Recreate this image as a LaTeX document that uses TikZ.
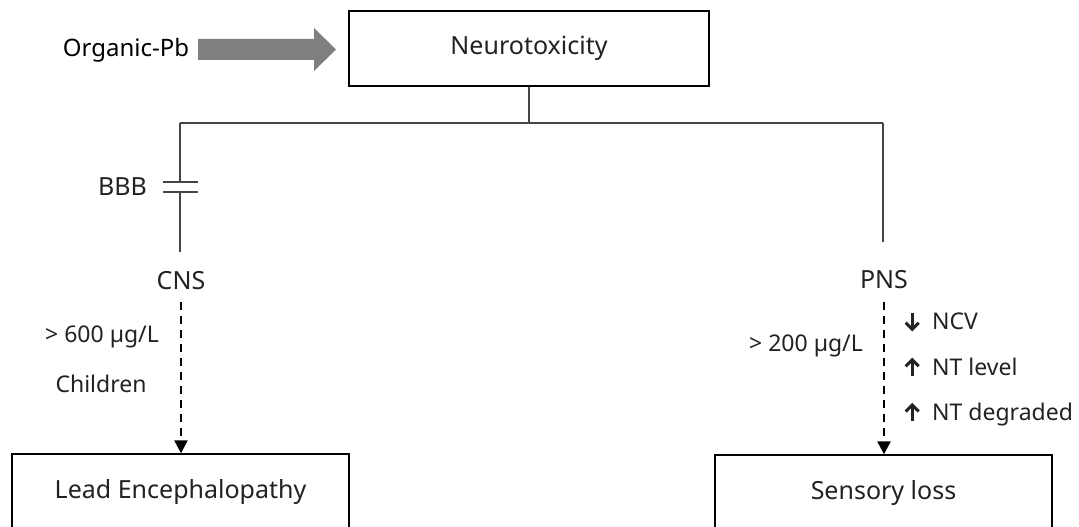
\documentclass[tikz,border=0pt]{standalone}
\usepackage{fontspec}
\setmainfont{Noto Sans}
\usetikzlibrary{arrows.meta}
\definecolor{ink}{HTML}{222222}
\definecolor{linegray}{HTML}{444444}
\definecolor{arrowgray}{HTML}{7F7F7F}
% inline bold open-headed arrows used in the effect list
\newcommand{\uparr}{\tikz[x=1pt,y=1pt,baseline=0pt]{%
  \draw[line width=3pt, line join=miter] (-6.5,9.5) -- (0,16) -- (6.5,9.5);
  \draw[line width=3pt] (0,15.5) -- (0,-0.5);}\hspace{12pt}}
\newcommand{\downarr}{\tikz[x=1pt,y=1pt,baseline=0pt]{%
  \draw[line width=3pt, line join=miter] (-6.5,7) -- (0,0.5) -- (6.5,7);
  \draw[line width=3pt] (0,1) -- (0,17);}\hspace{12pt}}
\begin{document}
\begin{tikzpicture}[x=1pt,y=-1pt,
  bigtext/.style={font=\fontsize{25}{30}\selectfont, text=ink, inner sep=0pt},
  smalltext/.style={font=\fontsize{23}{27}\selectfont, text=ink, inner sep=0pt},
  boxnode/.style={draw=black, line width=1.4pt, font=\fontsize{25}{30}\selectfont, text=ink},
  thinline/.style={draw=linegray, line width=1.1pt},
  dashedarrow/.style={draw=black, line width=2.4pt, dash pattern=on 8pt off 6pt,
    -{Triangle[length=13pt,width=13pt]}}
]
\useasboundingbox (0,0) rectangle (1079,527);
\clip (0,0) rectangle (1079,527);
\fill[white] (0,0) rectangle (1079,527);

% top row: source and main effect
\node[font=\fontsize{24}{28}\selectfont, text=black, inner sep=0pt] (organic) at (126,50) {Organic-Pb};
\node[boxnode, minimum width=360pt, minimum height=75pt, inner sep=0pt] (neuro) at (529,48.5) {};
\node[bigtext] at (neuro.center) {Neurotoxicity};

% broad gray arrow into the main box
\fill[arrowgray] (198,39) -- (314,39) -- (314,28) -- (336,49.5) -- (314,71) -- (314,60) -- (198,60) -- cycle;

% branching tree
\coordinate (split) at (529,123);
\coordinate (lefttop) at (180,123);
\coordinate (righttop) at (883,123);
\coordinate (capA) at (180,182);
\coordinate (capB) at (180,192);
\coordinate (leftend) at (180,252);
\coordinate (rightend) at (883,242);
\draw[thinline] (neuro.south) -- (split);
\draw[thinline] (lefttop) -- (righttop);
\draw[thinline] (lefttop) -- (capA);
\draw[thinline] (capB) -- (leftend);
\draw[thinline] (righttop) -- (rightend);
% blood-brain barrier plates
\draw[thinline] (163,182) -- (198,182);
\draw[thinline] (163,192) -- (198,192);
\node[bigtext, anchor=east] (bbb) at (147,187) {BBB};

% branch labels
\node[bigtext] (cns) at (181,281) {CNS};
\node[bigtext] (pns) at (884,280) {PNS};

% outcome boxes
\node[boxnode, minimum width=337pt, minimum height=76pt, inner sep=0pt] (lead) at (180.5,492) {};
\node[bigtext] at (lead.center) {Lead Encephalopathy};
\node[boxnode, minimum width=337pt, minimum height=76pt, inner sep=0pt] (sensory) at (883.5,493) {};
\node[bigtext] at (sensory.center) {Sensory loss};

% dashed arrows to outcomes
\draw[dashedarrow] (cns.south |- 0,302) -- (lead.north -| cns.south);
\draw[dashedarrow] (pns.south |- 0,302) -- (sensory.north -| pns.south);

% conditions
\node[smalltext] (c600) at (102,337) {> 600 µg/L};
\node[smalltext] (child) at (101,384) {Children};
\node[smalltext] (c200) at (806,346) {> 200 µg/L};
\node[smalltext, anchor=west] (ncv) at (904,321) {\downarr NCV};
\node[smalltext, anchor=west] (ntl) at (904,368) {\uparr NT level};
\node[smalltext, anchor=west] (ntd) at (904,415) {\uparr NT degraded};
\end{tikzpicture}
\end{document}
